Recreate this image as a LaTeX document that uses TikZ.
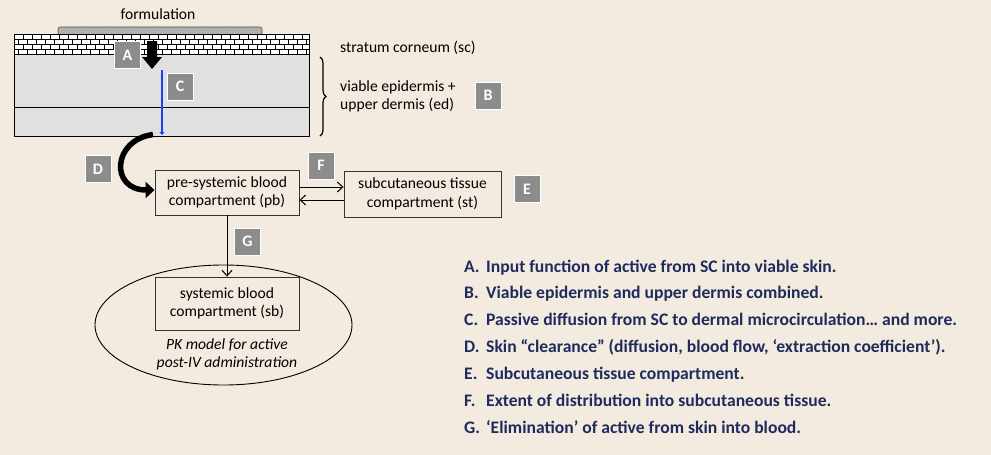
\documentclass[tikz,border=0pt]{standalone}
\usepackage{fontspec}
\setmainfont{Carlito}
\usetikzlibrary{arrows.meta,shapes.geometric,patterns,decorations.pathreplacing,calc}
\definecolor{bg}{HTML}{F3EBDF}
\definecolor{lblgray}{HTML}{8C8C8C}
\definecolor{skin}{HTML}{E0E0E0}
\definecolor{navy}{HTML}{1F2B5E}
\definecolor{cblue}{HTML}{1F3FEA}
\begin{document}
\begin{tikzpicture}[x=1pt,y=-1pt,
  lbl/.style={fill=lblgray, draw=white, line width=0.8pt, text=white,
    font=\bfseries\fontsize{16}{18}\selectfont, minimum width=26pt, minimum height=27pt, inner sep=0pt},
  comp/.style={draw=black!80, line width=0.9pt, fill=bg, align=center,
    font=\fontsize{15.6}{18.5}\selectfont, inner sep=2pt},
  txt/.style={font=\fontsize{15.6}{18}\selectfont, align=left, inner sep=0pt},
  leg/.style={font=\bfseries\fontsize{17.6}{20}\selectfont, text=navy, inner sep=0pt, anchor=base west},
  arr/.style={line width=1pt, -{Straight Barb[length=5.5pt,width=10pt]}}]
\fill[bg] (0,0) rectangle (991,455);
% formulation
\node[txt] (form) at (158,14) {formulation};
\fill[gray!65, draw=black!70, line width=0.6pt, rounded corners=2pt] (58,27) rectangle (262,35);
\fill[pattern=crosshatch dots, pattern color=black!30] (59,28) rectangle (261,34);
\fill[pattern=dots, pattern color=white!80!gray] (59,28) rectangle (261,34);
% skin
\fill[skin] (14,34) rectangle (309,136);
\fill[white] (14,34) rectangle (309,54);
\begin{scope}
\clip (14,34) rectangle (309,54);
\foreach \r in {0,1,2,3}{
  \draw[black, line width=0.6pt] (14,34+5*\r) -- (309,34+5*\r);
  \pgfmathsetmacro{\off}{mod(\r,2)*4.5}
  \foreach \i in {0,...,33}{
    \draw[black, line width=0.6pt] (14+\off+9*\i,34+5*\r) -- (14+\off+9*\i,39+5*\r);
  }
}
\end{scope}
\draw[black, line width=0.9pt] (14,54) -- (309,54);
\draw[black, line width=0.9pt] (14,107) -- (309,107);
\draw[black, line width=0.9pt] (14,34) rectangle (309,136);
% arrow A
\fill[black] (147,41) -- (157,41) -- (157,57) -- (162,57) -- (152,69) -- (142,57) -- (147,57) -- cycle;
% arrow C
\coordinate (ctop) at (162,70);
\coordinate (cbot) at (162,135);
\draw[cblue, line width=2pt, -{Triangle[length=3pt,width=5pt]}] (ctop) -- (cbot);
% brace
\draw[black, line width=1.2pt, decorate, decoration={brace, amplitude=6pt}] (320,57) -- (320,136);
\node[txt, anchor=west] (sc) at (340,48) {stratum corneum (sc)};
\node[txt, anchor=west] (ed) at (340,96) {viable epidermis +\\upper dermis (ed)};
% compartments
\node[comp, minimum width=144pt, minimum height=45pt] (pb) at (227,192.5) {pre-systemic blood\\compartment (pb)};
\node[comp, minimum width=157pt, minimum height=46pt] (st) at (422.5,194) {subcutaneous tissue\\compartment (st)};
\node[draw=black, line width=0.9pt, ellipse, minimum width=257pt, minimum height=120pt] (ell) at (223.5,325) {};
\node[comp, minimum width=144pt, minimum height=53pt] (sb) at (227,303.5) {systemic blood\\compartment (sb)};
\node[font=\itshape\fontsize{15.6}{18}\selectfont, align=center, inner sep=0pt] (pk) at (227,354) {PK model for active\\post-IV administration};
% connectors
\coordinate (skinbot) at (153,134.5);
\draw[line width=5.5pt, -{Triangle[length=9pt,width=16pt]}] (skinbot) .. controls (112,140) and (110,190) .. ([yshift=2.5pt]pb.west);
\draw[arr] ([yshift=5.5pt]pb.east) -- ([yshift=7pt]st.west);
\draw[arr] ([yshift=-6pt]st.west) -- ([yshift=-7.5pt]pb.east);
\draw[arr] (pb.south) -- (sb.north);
% labels
\node[lbl] (la) at (127.5,55) {A};
\node[lbl] (lc) at (180,86.5) {C};
\node[lbl] (lb) at (488,95.5) {B};
\node[lbl] (ld) at (98,169) {D};
\node[lbl] (lf) at (321,165.5) {F};
\node[lbl] (le) at (527,189) {E};
\node[lbl] (lg) at (247.5,241.5) {G};
% legend
\foreach \y/\l/\t [count=\k] in {
  272/A./Input function of active from SC into viable skin.,
  298/B./Viable epidermis and upper dermis combined.,
  325/C./Passive diffusion from SC to dermal microcirculation… and more.,
  352/D./{Skin “clearance” (diffusion, blood flow, ‘extraction coefficient’).},
  379/E./Subcutaneous tissue compartment.,
  406/F./Extent of distribution into subcutaneous tissue.,
  433/G./‘Elimination’ of active from skin into blood.}{
  \node[leg] (lk\k) at (464,\y) {\l};
  \node[leg] (lt\k) at (486,\y) {\t};
}
\end{tikzpicture}
\end{document}
